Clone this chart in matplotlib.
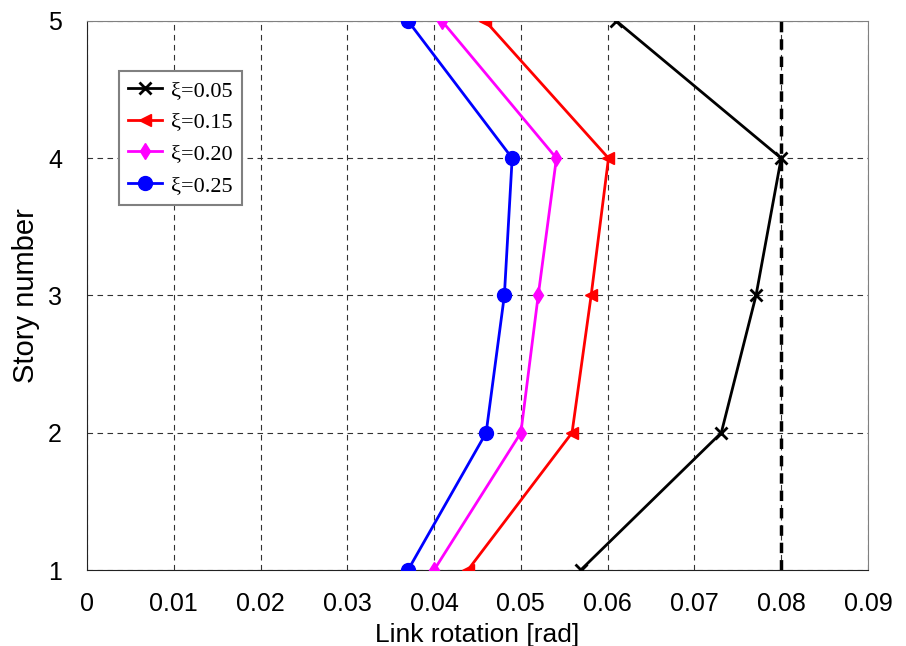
import matplotlib
matplotlib.use("Agg")
import matplotlib.pyplot as plt

stories = [1, 2, 3, 4, 5]
rot_005 = [0.0569, 0.0731, 0.0771, 0.0800, 0.0610]
rot_015 = [0.0439, 0.0559, 0.0581, 0.0601, 0.0459]
rot_020 = [0.0400, 0.0500, 0.0520, 0.0541, 0.0409]
rot_025 = [0.0370, 0.0460, 0.0481, 0.0490, 0.0370]
limit = 0.08

x_ticks = [0, 0.01, 0.02, 0.03, 0.04, 0.05, 0.06, 0.07, 0.08, 0.09]
x_labels = ["0", "0.01", "0.02", "0.03", "0.04", "0.05", "0.06", "0.07", "0.08", "0.09"]

plt.rcParams['font.family'] = ['Liberation Sans', 'DejaVu Sans']

fig = plt.figure(figsize=(9.06, 6.46), dpi=100)
ax = fig.add_axes([0.096, 0.1176, 0.862, 0.85])

ax.plot(rot_005, stories, color='black', marker='x', ms=9, mew=2, lw=2, label='ξ=0.05', zorder=5)
ax.plot(rot_015, stories, color='red', marker='<', ms=9, lw=2, label='ξ=0.15', zorder=5)
ax.plot(rot_020, stories, color='magenta', marker='d', ms=8, lw=2, label='ξ=0.20', zorder=5)
ax.plot(rot_025, stories, color='blue', marker='o', ms=10, lw=2, label='ξ=0.25', zorder=5)

ax.axvline(limit, color='black', ls=(0, (3, 2)), lw=2.5, zorder=4)

ax.set_xlim(0, 0.09)
ax.set_ylim(1, 5)
ax.set_xticks(x_ticks)
ax.set_xticklabels(x_labels)
ax.set_yticks(stories)
ax.tick_params(labelsize=18, length=0)
ax.tick_params(axis='x', pad=16)
ax.tick_params(axis='y', pad=18)
ax.grid(True, color='#333333', ls=(0, (5, 4)), lw=0.8)

for side in ['top', 'right']:
    ax.spines[side].set_color('#808080')
for side in ['left', 'bottom']:
    ax.spines[side].set_color('#222222')

ax.set_xlabel("Link rotation [rad]", fontsize=19, labelpad=5)
ax.set_ylabel("Story number", fontsize=21, labelpad=6)

leg = ax.legend(loc='upper left', bbox_to_anchor=(0.041, 0.909), borderaxespad=0,
                prop={'family': 'Liberation Serif', 'size': 16},
                fancybox=False, framealpha=1, edgecolor='#808080',
                handlelength=1.5, handletextpad=0.4, labelspacing=0.5, borderpad=0.42)
leg.get_frame().set_linewidth(1.5)

fig.savefig("out.png", dpi=100)
